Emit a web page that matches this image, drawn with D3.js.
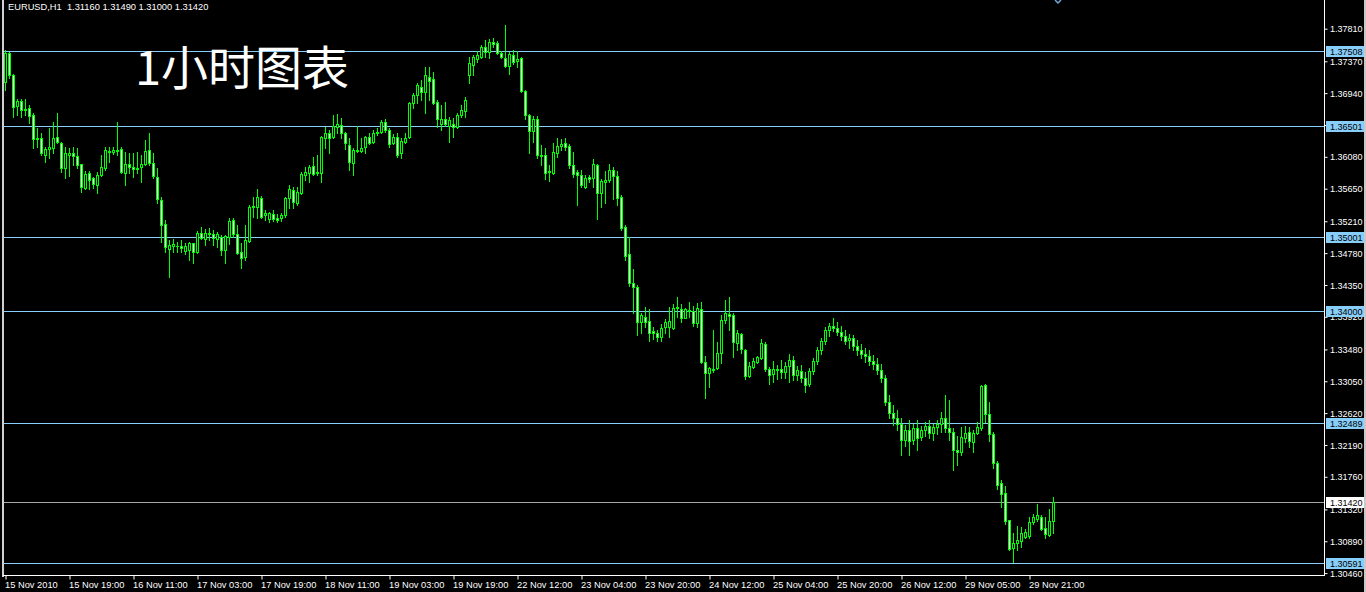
<!DOCTYPE html>
<html><head><meta charset="utf-8">
<script src="https://cdn.jsdelivr.net/npm/d3@7"></script>
<style>html,body{margin:0;padding:0;background:#000;overflow:hidden}</style>
</head><body>
<svg id="c" width="1366" height="592"></svg>
<script>
const opens=[1.3709,1.3748,1.3718,1.3677,1.3683,1.3672,1.3674,1.3664,1.3632,1.3633,1.3610,1.3619,1.3620,1.3635,1.3627,1.3593,1.3611,1.3613,1.3609,1.3598,1.3566,1.3586,1.3579,1.3570,1.3583,1.3593,1.3615,1.3615,1.3617,1.3619,1.3586,1.3598,1.3594,1.3591,1.3594,1.3598,1.3617,1.3600,1.3581,1.3550,1.3517,1.3484,1.3487,1.3487,1.3487,1.3481,1.3482,1.3491,1.3479,1.3505,1.3497,1.3504,1.3504,1.3497,1.3500,1.3482,1.3500,1.3523,1.3504,1.3480,1.3473,1.3494,1.3540,1.3540,1.3552,1.3530,1.3524,1.3531,1.3525,1.3525,1.3529,1.3552,1.3563,1.3546,1.3559,1.3583,1.3586,1.3595,1.3586,1.3586,1.3633,1.3640,1.3635,1.3648,1.3651,1.3640,1.3624,1.3600,1.3616,1.3616,1.3621,1.3635,1.3628,1.3640,1.3641,1.3655,1.3644,1.3627,1.3635,1.3613,1.3628,1.3635,1.3681,1.3691,1.3702,1.3695,1.3716,1.3713,1.3682,1.3652,1.3659,1.3650,1.3652,1.3648,1.3664,1.3670,1.3718,1.3732,1.3740,1.3743,1.3756,1.3750,1.3763,1.3762,1.3748,1.3741,1.3730,1.3745,1.3737,1.3741,1.3697,1.3664,1.3643,1.3659,1.3610,1.3610,1.3588,1.3586,1.3613,1.3623,1.3627,1.3623,1.3597,1.3587,1.3583,1.3567,1.3581,1.3579,1.3597,1.3559,1.3574,1.3577,1.3590,1.3582,1.3554,1.3513,1.3477,1.3438,1.3432,1.3385,1.3392,1.3386,1.3373,1.3370,1.3365,1.3378,1.3378,1.3377,1.3404,1.3402,1.3391,1.3401,1.3400,1.3384,1.3402,1.3331,1.3316,1.3320,1.3323,1.3343,1.3388,1.3396,1.3394,1.3357,1.3369,1.3347,1.3312,1.3324,1.3331,1.3336,1.3355,1.3322,1.3315,1.3320,1.3322,1.3318,1.3326,1.3334,1.3313,1.3319,1.3309,1.3301,1.3319,1.3333,1.3347,1.3359,1.3374,1.3380,1.3377,1.3372,1.3366,1.3361,1.3363,1.3353,1.3347,1.3342,1.3339,1.3333,1.3328,1.3320,1.3309,1.3277,1.3262,1.3255,1.3247,1.3226,1.3239,1.3226,1.3242,1.3230,1.3239,1.3245,1.3235,1.3243,1.3247,1.3255,1.3242,1.3236,1.3212,1.3209,1.3229,1.3236,1.3223,1.3235,1.3242,1.3300,1.3261,1.3234,1.3195,1.3168,1.3154,1.3118,1.3080,1.3087,1.3089,1.3095,1.3096,1.3115,1.3119,1.3122,1.3107,1.3098,1.3116];
const highs=[1.3752,1.3749,1.3720,1.3686,1.3686,1.3686,1.3678,1.3667,1.3647,1.3640,1.3621,1.3647,1.3655,1.3667,1.3628,1.3621,1.3620,1.3621,1.3620,1.3599,1.3589,1.3589,1.3581,1.3587,1.3610,1.3621,1.3621,1.3621,1.3655,1.3621,1.3614,1.3613,1.3613,1.3614,1.3610,1.3631,1.3640,1.3613,1.3593,1.3554,1.3523,1.3496,1.3497,1.3493,1.3496,1.3491,1.3493,1.3492,1.3508,1.3513,1.3511,1.3512,1.3509,1.3506,1.3502,1.3502,1.3525,1.3525,1.3516,1.3492,1.3516,1.3543,1.3554,1.3565,1.3555,1.3536,1.3534,1.3536,1.3531,1.3532,1.3554,1.3570,1.3567,1.3567,1.3587,1.3594,1.3597,1.3608,1.3610,1.3636,1.3648,1.3644,1.3664,1.3666,1.3660,1.3641,1.3633,1.3620,1.3650,1.3633,1.3636,1.3640,1.3644,1.3647,1.3658,1.3659,1.3647,1.3639,1.3640,1.3633,1.3640,1.3682,1.3694,1.3708,1.3712,1.3729,1.3729,1.3722,1.3685,1.3678,1.3682,1.3662,1.3660,1.3667,1.3678,1.3689,1.3743,1.3745,1.3751,1.3759,1.3766,1.3767,1.3768,1.3764,1.3751,1.3786,1.3750,1.3752,1.3751,1.3743,1.3698,1.3666,1.3663,1.3663,1.3624,1.3620,1.3597,1.3627,1.3633,1.3632,1.3633,1.3625,1.3614,1.3590,1.3590,1.3583,1.3583,1.3605,1.3598,1.3578,1.3589,1.3598,1.3594,1.3589,1.3556,1.3516,1.3500,1.3456,1.3435,1.3397,1.3405,1.3402,1.3378,1.3374,1.3382,1.3389,1.3405,1.3409,1.3419,1.3409,1.3404,1.3412,1.3407,1.3411,1.3412,1.3339,1.3324,1.3374,1.3358,1.3394,1.3415,1.3419,1.3397,1.3374,1.3370,1.3349,1.3331,1.3336,1.3339,1.3362,1.3358,1.3324,1.3333,1.3327,1.3334,1.3331,1.3342,1.3339,1.3326,1.3327,1.3317,1.3323,1.3337,1.3351,1.3363,1.3378,1.3383,1.3390,1.3385,1.3380,1.3374,1.3369,1.3367,1.3361,1.3355,1.3350,1.3347,1.3340,1.3336,1.3328,1.3313,1.3286,1.3273,1.3266,1.3255,1.3246,1.3253,1.3247,1.3253,1.3245,1.3250,1.3253,1.3247,1.3253,1.3263,1.3286,1.3280,1.3242,1.3231,1.3243,1.3245,1.3243,1.3239,1.3250,1.3300,1.3301,1.3277,1.3236,1.3197,1.3172,1.3164,1.3118,1.3100,1.3110,1.3108,1.3106,1.3122,1.3126,1.3139,1.3124,1.3122,1.3133,1.3149];
const lows=[1.3698,1.3714,1.3662,1.3664,1.3662,1.3664,1.3654,1.3620,1.3621,1.3610,1.3601,1.3606,1.3613,1.3627,1.3587,1.3579,1.3582,1.3597,1.3593,1.3560,1.3564,1.3564,1.3566,1.3559,1.3582,1.3590,1.3601,1.3612,1.3610,1.3586,1.3570,1.3586,1.3581,1.3586,1.3574,1.3597,1.3597,1.3579,1.3546,1.3493,1.3479,1.3446,1.3479,1.3480,1.3479,1.3477,1.3469,1.3465,1.3478,1.3497,1.3489,1.3496,1.3489,1.3486,1.3476,1.3465,1.3490,1.3500,1.3477,1.3458,1.3469,1.3493,1.3527,1.3525,1.3525,1.3523,1.3520,1.3521,1.3520,1.3521,1.3527,1.3539,1.3539,1.3543,1.3558,1.3577,1.3574,1.3583,1.3583,1.3574,1.3620,1.3613,1.3633,1.3640,1.3633,1.3619,1.3590,1.3583,1.3614,1.3614,1.3613,1.3625,1.3627,1.3637,1.3640,1.3641,1.3621,1.3625,1.3608,1.3606,1.3627,1.3633,1.3674,1.3681,1.3685,1.3667,1.3685,1.3680,1.3648,1.3644,1.3650,1.3628,1.3635,1.3647,1.3662,1.3662,1.3708,1.3718,1.3736,1.3741,1.3743,1.3741,1.3756,1.3747,1.3741,1.3729,1.3720,1.3733,1.3729,1.3695,1.3659,1.3613,1.3628,1.3606,1.3597,1.3578,1.3575,1.3585,1.3608,1.3617,1.3617,1.3593,1.3581,1.3543,1.3567,1.3566,1.3574,1.3567,1.3524,1.3540,1.3546,1.3574,1.3551,1.3543,1.3509,1.3469,1.3434,1.3397,1.3367,1.3370,1.3378,1.3359,1.3362,1.3359,1.3359,1.3370,1.3365,1.3376,1.3392,1.3385,1.3390,1.3392,1.3380,1.3378,1.3330,1.3282,1.3297,1.3318,1.3321,1.3330,1.3384,1.3374,1.3338,1.3347,1.3343,1.3308,1.3311,1.3323,1.3330,1.3335,1.3319,1.3301,1.3304,1.3308,1.3309,1.3309,1.3304,1.3307,1.3307,1.3304,1.3290,1.3298,1.3315,1.3328,1.3342,1.3355,1.3366,1.3373,1.3368,1.3361,1.3355,1.3350,1.3347,1.3340,1.3336,1.3331,1.3327,1.3322,1.3315,1.3304,1.3273,1.3255,1.3246,1.3239,1.3205,1.3218,1.3205,1.3220,1.3212,1.3226,1.3231,1.3228,1.3226,1.3234,1.3236,1.3236,1.3226,1.3185,1.3192,1.3205,1.3223,1.3216,1.3209,1.3234,1.3239,1.3250,1.3224,1.3188,1.3160,1.3135,1.3112,1.3077,1.3061,1.3077,1.3081,1.3093,1.3094,1.3112,1.3116,1.3104,1.3093,1.3096,1.3100];
const closes=[1.3748,1.3718,1.3675,1.3683,1.3671,1.3671,1.3663,1.3632,1.3633,1.3613,1.3619,1.3621,1.3633,1.3628,1.3593,1.3613,1.3613,1.3609,1.3597,1.3567,1.3585,1.3577,1.3571,1.3583,1.3594,1.3617,1.3616,1.3617,1.3616,1.3587,1.3598,1.3594,1.3591,1.3593,1.3598,1.3616,1.3600,1.3582,1.3551,1.3516,1.3486,1.3489,1.3490,1.3488,1.3485,1.3487,1.3492,1.3479,1.3505,1.3498,1.3505,1.3505,1.3498,1.3504,1.3482,1.3501,1.3521,1.3504,1.3478,1.3471,1.3496,1.3540,1.3542,1.3554,1.3527,1.3532,1.3532,1.3524,1.3523,1.3529,1.3552,1.3565,1.3547,1.3560,1.3585,1.3587,1.3594,1.3585,1.3587,1.3635,1.3640,1.3633,1.3650,1.3652,1.3640,1.3627,1.3601,1.3617,1.3617,1.3620,1.3635,1.3627,1.3640,1.3641,1.3655,1.3644,1.3625,1.3635,1.3610,1.3629,1.3633,1.3681,1.3691,1.3705,1.3696,1.3718,1.3710,1.3681,1.3659,1.3659,1.3652,1.3658,1.3648,1.3664,1.3671,1.3685,1.3735,1.3743,1.3746,1.3756,1.3750,1.3763,1.3760,1.3748,1.3743,1.3730,1.3747,1.3736,1.3740,1.3697,1.3664,1.3643,1.3659,1.3610,1.3609,1.3586,1.3589,1.3614,1.3623,1.3625,1.3621,1.3597,1.3585,1.3583,1.3570,1.3579,1.3578,1.3598,1.3559,1.3575,1.3577,1.3590,1.3582,1.3552,1.3512,1.3474,1.3438,1.3432,1.3385,1.3394,1.3385,1.3370,1.3370,1.3365,1.3377,1.3385,1.3386,1.3404,1.3405,1.3390,1.3402,1.3400,1.3384,1.3404,1.3331,1.3316,1.3323,1.3322,1.3343,1.3388,1.3397,1.3393,1.3358,1.3370,1.3349,1.3312,1.3326,1.3333,1.3338,1.3357,1.3322,1.3313,1.3322,1.3322,1.3318,1.3326,1.3334,1.3313,1.3320,1.3309,1.3300,1.3319,1.3333,1.3347,1.3359,1.3374,1.3380,1.3377,1.3372,1.3366,1.3359,1.3363,1.3353,1.3347,1.3342,1.3339,1.3333,1.3328,1.3320,1.3309,1.3277,1.3262,1.3255,1.3247,1.3226,1.3239,1.3224,1.3242,1.3228,1.3239,1.3245,1.3235,1.3243,1.3247,1.3255,1.3242,1.3236,1.3212,1.3209,1.3230,1.3235,1.3224,1.3235,1.3243,1.3298,1.3261,1.3234,1.3195,1.3165,1.3153,1.3116,1.3079,1.3087,1.3091,1.3100,1.3101,1.3115,1.3122,1.3124,1.3106,1.3099,1.3116,1.3142];
const timeLabels=["15 Nov 2010","15 Nov 19:00","16 Nov 11:00","17 Nov 03:00","17 Nov 19:00","18 Nov 11:00","19 Nov 03:00","19 Nov 19:00","22 Nov 12:00","23 Nov 04:00","23 Nov 20:00","24 Nov 12:00","25 Nov 04:00","25 Nov 20:00","26 Nov 12:00","29 Nov 05:00","29 Nov 21:00"];
const barsPerLabel=16;
const priceTicks=[1.37810,1.37370,1.36940,1.36510,1.36080,1.35650,1.35210,1.34780,1.34350,1.33920,1.33480,1.33050,1.32620,1.32190,1.31760,1.31320,1.30890,1.30460];
const levelLines=[1.37508,1.36501,1.35001,1.34000,1.32489,1.30591];
const bidPrice=1.31420;
const symbolInfo="EURUSD,H1  1.31160 1.31490 1.31000 1.31420";
const titleText="1小时图表";

const W=1366,H=592;
const svg=d3.select("#c");
svg.append("rect").attr("width",W).attr("height",H).attr("fill","#000");

const n=opens.length;
const x=d3.scaleLinear().domain([0,n-1]).range([5,5+4*(n-1)]);
const y=d3.scaleLinear().domain([1.30460,1.37810]).range([573.1,28.7]);
const LIME="#00ff00", LB="#87cefa";
const font="'Liberation Sans',Arial,sans-serif";

const plot=svg.append("g");
plot.selectAll("line.lvl").data(levelLines).enter().append("line")
  .attr("x1",3).attr("x2",1324).attr("y1",d=>Math.round(y(d))+0.5).attr("y2",d=>Math.round(y(d))+0.5)
  .attr("stroke",LB).attr("stroke-width",1);
plot.append("line").attr("x1",3).attr("x2",1324)
  .attr("y1",Math.round(y(bidPrice))+0.5).attr("y2",Math.round(y(bidPrice))+0.5)
  .attr("stroke","#a8a8a8").attr("stroke-width",1);

const bars=d3.range(n).map(i=>({i,o:opens[i],h:highs[i],l:lows[i],c:closes[i]}));
const cg=plot.selectAll("g.bar").data(bars).enter().append("g");
cg.append("rect").attr("x",d=>Math.round(x(d.i))).attr("width",1)
  .attr("y",d=>Math.round(y(d.h))).attr("height",d=>Math.round(y(d.l))-Math.round(y(d.h))+1)
  .attr("fill",LIME);
cg.append("rect").attr("x",d=>Math.round(x(d.i))-1).attr("width",3)
  .attr("y",d=>Math.round(y(Math.max(d.o,d.c))))
  .attr("height",d=>Math.max(1,Math.round(y(Math.min(d.o,d.c)))-Math.round(y(Math.max(d.o,d.c)))+1))
  .attr("fill",LIME);
cg.filter(d=>Math.round(y(Math.min(d.o,d.c)))-Math.round(y(Math.max(d.o,d.c)))>1)
  .append("rect").attr("x",d=>Math.round(x(d.i))).attr("width",1)
  .attr("y",d=>Math.round(y(Math.max(d.o,d.c)))+1)
  .attr("height",d=>Math.round(y(Math.min(d.o,d.c)))-Math.round(y(Math.max(d.o,d.c)))-1)
  .attr("fill",d=>d.c<d.o?"#e8ffe8":"#000");

svg.append("rect").attr("x",2).attr("y",0).attr("width",2).attr("height",577).attr("fill","#d0d0d0");
svg.append("line").attr("x1",3).attr("x2",1325).attr("y1",575.5).attr("y2",575.5).attr("stroke","#fff");
svg.append("line").attr("x1",1324.5).attr("x2",1324.5).attr("y1",0).attr("y2",576).attr("stroke","#fff");
svg.append("rect").attr("x",1364).attr("y",0).attr("width",2).attr("height",H).attr("fill","#c8c8c8");

const ya=svg.append("g").attr("transform","translate(1324.5,0)")
  .call(d3.axisRight(y).tickValues(priceTicks).tickSize(3).tickSizeOuter(0).tickFormat(d3.format(".5f")));
ya.select(".domain").remove();
ya.selectAll("line").attr("stroke","#fff");
ya.selectAll("text").attr("fill","#fff").attr("x",5.5).attr("dy","0.34em")
  .style("font-family",font).style("font-size","9px");

const xa=svg.append("g").attr("transform","translate(0.5,575.5)")
  .call(d3.axisBottom(x).tickValues(timeLabels.map((_,k)=>k*barsPerLabel)).tickSize(4).tickSizeOuter(0)
    .tickFormat((d,k)=>timeLabels[k]));
xa.select(".domain").remove();
xa.selectAll("line").attr("stroke","#fff");
xa.selectAll("text").attr("fill","#fff").attr("text-anchor","start").attr("x",-1).attr("y",6).attr("dy","0.71em")
  .style("font-family",font).style("font-size","9.3px");

const boxes=svg.append("g");
levelLines.forEach(v=>{
  const yy=Math.round(y(v));
  boxes.append("rect").attr("x",1326).attr("y",yy-5).attr("width",38).attr("height",11).attr("fill",LB);
  boxes.append("text").attr("x",1330).attr("y",yy+3.5).text(d3.format(".5f")(v))
    .attr("fill","#000").style("font-family",font).style("font-size","9px");
});
{
  const yy=Math.round(y(bidPrice));
  boxes.append("rect").attr("x",1326).attr("y",yy-5).attr("width",38).attr("height",11).attr("fill","#fff");
  boxes.append("text").attr("x",1330).attr("y",yy+3.5).text(d3.format(".5f")(bidPrice))
    .attr("fill","#000").style("font-family",font).style("font-size","9px");
}

svg.append("text").attr("x",8).attr("y",10).text(symbolInfo).attr("fill","#fff")
  .style("font-family",font).style("font-size","9.3px").style("white-space","pre").attr("xml:space","preserve");
svg.append("text").attr("x",135).attr("y",85).text(titleText).attr("fill","#fff")
  .style("font-family","'Noto Sans CJK SC',sans-serif").style("font-size","47px");
svg.append("path").attr("d","M1055,0 L1058,3 L1061,0").attr("fill","none").attr("stroke","#6fa8dc").attr("stroke-width",1.5);
</script>
</body></html>
